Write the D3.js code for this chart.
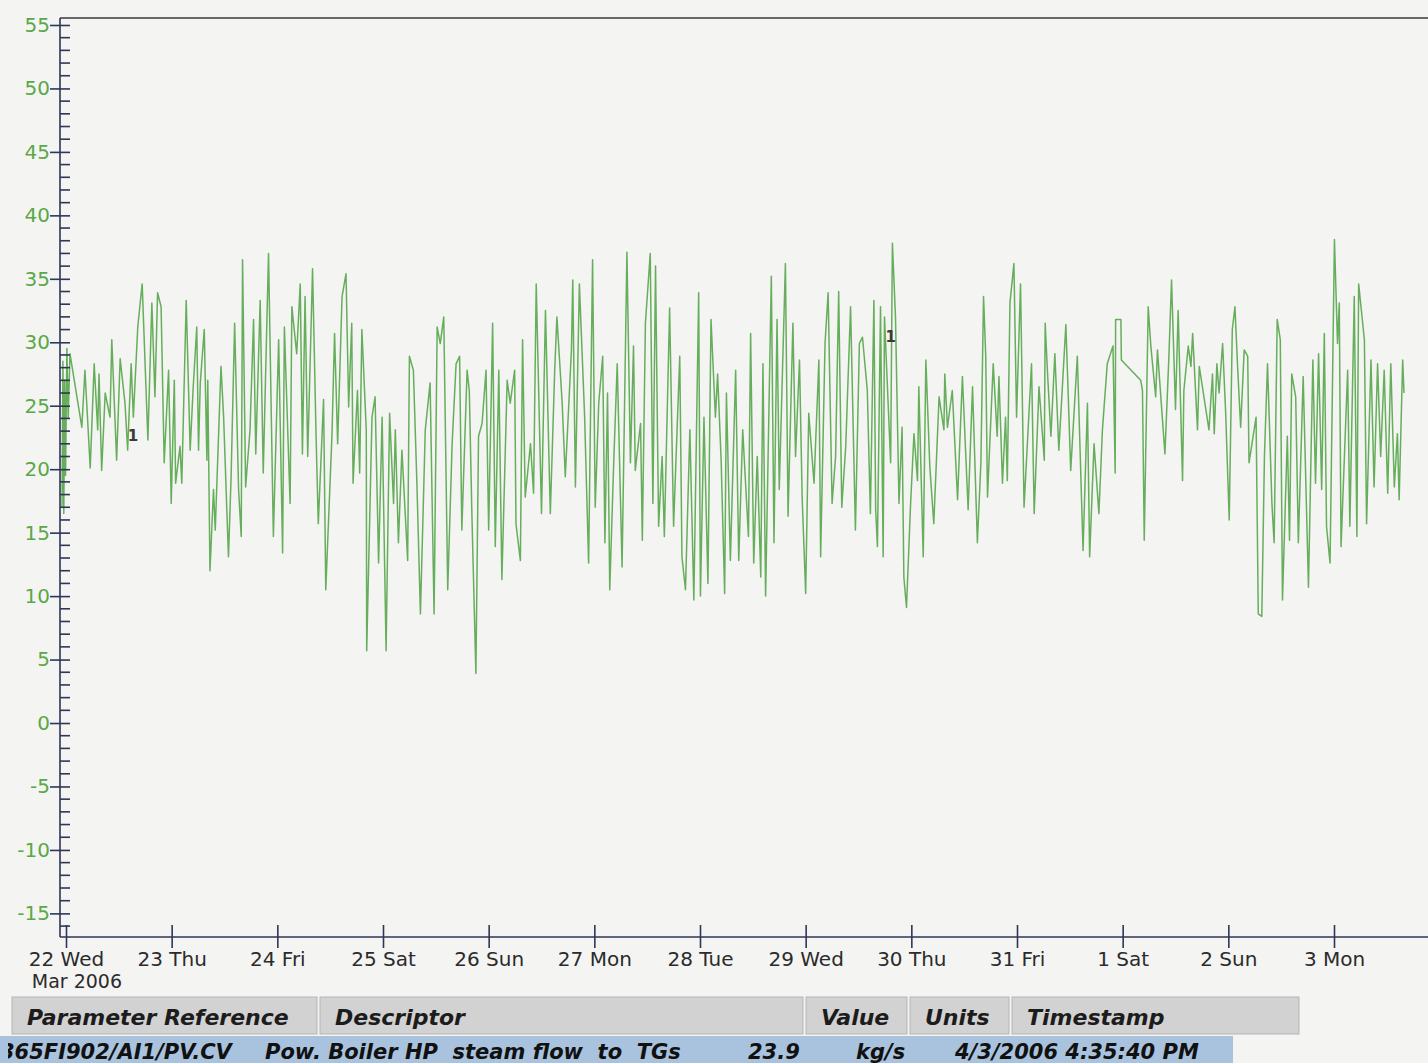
<!DOCTYPE html>
<html>
<head>
<meta charset="utf-8">
<script src="https://cdn.jsdelivr.net/npm/d3@7"></script>
<style>
  body { margin: 0; background: #f4f4f3; }
  svg { display: block; font-family: "DejaVu Sans", Verdana, sans-serif; }
</style>
</head>
<body>
<svg id="chart" width="1428" height="1063"></svg>
<script>
const hours = [-0.9,-0.7,-0.5,-0.3,-0.1,0.2,0.5,0.9,3.6,4.3,5.5,6.4,7.2,7.5,8.1,8.9,10.0,10.4,11.5,12.3,13.4,14.0,14.8,15.3,16.3,17.3,18.6,19.5,20.2,20.8,21.6,22.3,23.3,23.9,24.6,24.9,25.9,26.3,27.3,28.2,28.9,29.7,30.1,30.5,31.4,32.0,32.2,32.7,33.5,33.9,35.2,35.8,36.9,37.5,38.3,39.2,39.8,40.1,40.8,41.8,42.6,43.1,44.1,44.8,46.0,47.1,48.3,49.2,49.6,50.9,51.3,52.4,53.2,53.7,54.3,54.9,56.0,56.8,57.3,58.5,59.0,60.4,61.0,61.7,62.7,63.6,64.2,64.9,65.2,66.2,66.7,67.2,68.2,68.3,69.5,70.2,71.0,71.8,72.7,73.5,74.4,74.8,75.5,76.3,77.6,78.0,78.9,79.7,80.5,81.6,82.7,83.6,84.3,85.0,85.8,86.7,87.7,88.6,89.4,89.9,91.1,91.6,92.2,93.1,93.7,94.5,95.4,96.0,96.9,97.5,98.3,99.0,100.2,100.9,101.9,102.2,103.2,103.7,104.3,105.5,106.2,106.8,108.0,108.9,110.0,111.0,111.5,112.7,113.4,114.8,115.1,115.7,116.6,117.8,118.7,119.6,120.2,121.0,121.9,122.4,123.0,123.5,124.4,125.2,126.3,127.4,128.2,128.9,129.3,130.5,130.9,131.6,132.7,133.3,133.9,134.6,135.4,135.9,137.1,138.0,139.4,139.9,140.7,141.7,142.6,143.7,144.1,144.9,145.8,146.5,147.5,148.0,148.8,149.6,150.0,150.9,152.1,152.8,153.7,155.0,155.5,156.2,157.0,157.8,158.3,158.9,160.2,160.8,161.5,162.0,163.4,164.0,165.1,165.7,166.6,167.2,168.0,168.7,169.9,171.0,171.4,172.4,173.1,174.0,174.8,175.5,176.2,177.1,178.2,179.3,180.2,180.9,182.0,182.7,183.5,183.9,184.3,185.0,185.6,185.9,187.3,187.7,188.4,189.2,189.9,190.3,190.9,191.8,192.6,193.4,193.7,194.7,195.3,196.2,197.1,198.3,199.4,199.6,200.2,201.3,202.5,203.6,204.9,205.9,207.0,207.8,208.4,208.9,209.3,210.6,211.5,211.9,212.7,213.4,213.8,214.4,215.3,215.9,216.8,217.6,219.3,219.9,221.0,222.2,222.4,222.9,223.7,224.6,225.5,227.1,228.2,229.7,231.0,232.0,232.5,233.5,234.6,235.4,236.5,237.8,238.3,238.4,239.6,239.7,244.1,244.5,244.9,245.8,246.4,247.5,247.9,249.6,250.5,251.1,252.0,252.6,253.6,253.9,254.9,255.5,255.9,257.0,257.4,259.6,260.4,260.8,261.4,261.9,262.7,263.4,264.2,264.9,265.5,266.1,266.8,267.6,268.4,268.7,270.3,270.8,271.6,272.2,272.9,273.9,274.4,275.1,275.8,276.3,277.4,277.9,278.4,279.3,279.9,281.0,282.2,283.2,283.8,284.5,285.2,285.8,286.3,287.1,288.1,288.8,289.2,289.6,290.7,291.1,291.6,292.6,293.2,293.6,294.9,295.4,296.4,297.1,297.9,298.6,299.4,300.2,300.9,301.7,302.4,302.8,303.6,303.9];
const flow = [17.0,28.5,16.5,27.0,19.5,29.5,24.0,29.1,23.3,27.8,20.1,28.3,23.1,27.5,19.9,26.0,24.1,30.2,20.7,28.7,25.2,21.5,28.3,24.1,31.2,34.6,22.3,33.1,25.7,33.9,32.8,20.5,27.8,17.3,27.0,18.9,21.8,18.9,33.3,21.5,26.5,31.2,21.5,26.8,31.0,20.7,27.0,12.0,18.4,15.2,28.1,24.1,13.1,19.4,31.5,18.4,14.7,36.5,18.6,23.1,31.8,21.2,33.3,19.7,37.0,14.7,30.2,13.4,31.2,17.3,32.8,29.1,34.6,21.2,33.6,21.0,35.8,22.6,15.7,25.5,10.5,22.6,30.7,22.0,33.6,35.4,24.9,31.5,18.9,26.2,19.7,31.0,23.1,5.7,24.1,25.7,12.6,24.1,5.7,24.4,17.3,23.1,14.2,21.5,12.8,28.9,27.8,18.9,8.6,23.1,26.8,8.6,31.2,29.9,32.0,10.5,22.0,28.3,28.9,15.2,27.8,26.2,16.3,3.9,22.6,23.6,27.8,15.2,31.5,13.9,27.8,11.3,27.0,25.2,27.8,15.7,12.8,30.2,17.8,22.0,18.1,34.6,16.5,32.5,16.5,27.8,32.0,25.2,19.4,29.4,34.9,18.6,34.6,24.1,12.6,36.5,17.0,25.2,28.9,14.2,26.0,10.5,20.5,28.3,12.3,37.1,20.5,29.7,19.9,23.6,14.4,31.5,37.0,17.3,36.0,15.5,21.0,14.7,32.7,15.5,28.9,13.1,10.5,23.1,9.7,33.9,10.0,24.1,11.0,31.8,24.1,27.5,20.7,10.2,26.0,12.8,27.8,12.8,23.1,14.7,30.7,12.6,21.0,11.5,28.3,10.0,35.2,14.2,31.8,18.4,36.2,16.3,31.5,21.0,28.6,17.8,10.2,24.4,18.9,28.6,13.1,29.9,33.9,17.3,21.0,34.0,17.0,21.8,32.8,15.2,29.9,30.4,26.2,16.5,33.3,16.8,13.9,32.8,13.1,32.0,20.5,37.8,32.0,17.3,23.3,11.5,9.1,17.0,22.8,19.1,26.5,13.1,28.6,20.2,15.7,25.7,23.1,27.5,23.3,26.2,17.6,27.3,16.8,26.5,14.2,20.5,33.6,28.9,17.8,28.3,22.6,27.3,18.9,24.1,19.1,33.1,36.2,24.1,34.6,17.0,28.3,16.5,26.5,20.7,31.5,27.8,22.6,29.1,21.5,31.4,19.9,28.9,13.6,25.2,13.1,22.0,16.5,23.1,28.3,29.7,19.7,31.8,31.8,28.6,27.0,26.2,14.4,32.8,29.7,25.7,29.4,21.2,28.9,34.9,24.7,32.5,19.1,26.2,29.7,28.1,30.7,23.1,28.1,23.1,27.5,22.8,28.3,26.0,29.9,24.4,16.0,31.0,32.8,28.1,23.3,29.4,28.9,20.5,24.1,8.6,8.4,21.0,28.3,17.3,14.2,31.8,30.2,9.7,22.6,14.4,27.5,25.7,14.2,27.3,10.7,28.6,18.9,29.1,18.4,30.7,15.5,12.6,38.1,29.9,33.1,13.9,24.1,27.8,15.5,33.6,14.7,34.6,30.2,15.7,28.6,18.6,28.3,21.0,27.8,18.1,28.3,18.6,22.8,17.6,28.6,26.0];

const yTickValues = [-15, -10, -5, 0, 5, 10, 15, 20, 25, 30, 35, 40, 45, 50, 55];
const markerHours = [15.2, 187.3];
const markerValues = [22.6, 30.4];
const markerText = ["1", "1"];

const tableHeaders = ["Parameter Reference", "Descriptor", "Value", "Units", "Timestamp"];
const tableRow = ["365FI902/AI1/PV.CV", "Pow. Boiler HP  steam flow  to  TGs", "23.9", "kg/s", "4/3/2006 4:35:40 PM"];

const t0 = Date.UTC(2006, 2, 22);
const t1 = Date.UTC(2006, 3, 3);
const data = hours.map((h, i) => ({ t: new Date(t0 + h * 3600e3), v: flow[i] }));

const svg = d3.select("#chart");
const axisColor = "#2f3658";
const green = "#5aa847";

const x = d3.scaleUtc().domain([new Date(t0), new Date(t1)]).range([66, 1334]);
const y = d3.scaleLinear().domain([-16.86, 55.55]).range([937, 18]);

// frame
svg.append("line").attr("x1", 60).attr("x2", 1428).attr("y1", 18).attr("y2", 18)
   .attr("stroke", "#3a3a3a").attr("stroke-width", 1.6);
svg.append("line").attr("x1", 60).attr("x2", 60).attr("y1", 18).attr("y2", 937)
   .attr("stroke", axisColor).attr("stroke-width", 1.6);
svg.append("line").attr("x1", 60).attr("x2", 1428).attr("y1", 937).attr("y2", 937)
   .attr("stroke", axisColor).attr("stroke-width", 1.6);

// trend
svg.append("path")
   .datum(data)
   .attr("fill", "none")
   .attr("stroke", "#66ae5c")
   .attr("stroke-width", 1.5)
   .attr("stroke-linejoin", "round")
   .attr("d", d3.line().x(d => x(d.t)).y(d => y(d.v)));

svg.selectAll(".mark")
   .data(markerHours)
   .enter()
   .append("text")
   .attr("class", "mark")
   .attr("x", (d, i) => x(new Date(t0 + d * 3600e3)))
   .attr("y", (d, i) => y(markerValues[i]))
   .attr("text-anchor", "middle")
   .attr("dy", "0.35em")
   .style("font-size", "15px")
   .style("font-weight", "bold")
   .attr("fill", "#3a3a3a")
   .text((d, i) => markerText[i]);

// y axis
const yAxis = svg.append("g")
   .attr("transform", "translate(60,0)")
   .call(d3.axisLeft(y).tickValues(yTickValues).tickSize(10).tickFormat(d => String(d)));
yAxis.select(".domain").remove();
yAxis.selectAll(".tick line").attr("x1", 10).attr("stroke", axisColor).attr("stroke-width", 1.6);
yAxis.selectAll(".tick text")
   .attr("x", -10)
   .attr("fill", green)
   .style("font-size", "20px")
   .style("font-family", "DejaVu Sans, sans-serif");

svg.selectAll(".minor")
   .data(d3.range(-16, 56).filter(v => v % 5 !== 0))
   .enter()
   .append("line")
   .attr("class", "minor")
   .attr("x1", 60).attr("x2", 70)
   .attr("y1", d => y(d)).attr("y2", d => y(d))
   .attr("stroke", axisColor)
   .attr("stroke-width", 1.6);

// x axis
const xAxis = svg.append("g")
   .attr("transform", "translate(0,937)")
   .call(d3.axisBottom(x)
      .tickValues(d3.utcDay.range(new Date(t0), new Date(t1 + 1)))
      .tickFormat(d3.utcFormat("%-d %a"))
      .tickSize(11));
xAxis.select(".domain").remove();
xAxis.selectAll(".tick line").attr("y1", -12).attr("stroke", axisColor).attr("stroke-width", 1.6);
xAxis.selectAll(".tick text")
   .attr("y", 15)
   .attr("fill", "#2b2b2b")
   .style("font-size", "20px")
   .style("font-family", "DejaVu Sans, sans-serif");

const firstLabel = xAxis.select(".tick text").node().getBBox();
xAxis.select(".tick").append("text")
   .attr("x", firstLabel.x + 3)
   .attr("y", 38)
   .attr("dy", "0.71em")
   .attr("fill", "#2b2b2b")
   .style("font-size", "19px")
   .style("font-family", "DejaVu Sans, sans-serif")
   .attr("text-anchor", "start")
   .text("Mar 2006");

// parameter table
const colEdges = [12, 320, 806, 910, 1012, 1302];
const head = svg.append("g");
head.selectAll("rect")
   .data(tableHeaders)
   .enter()
   .append("rect")
   .attr("x", (d, i) => colEdges[i])
   .attr("y", 997)
   .attr("width", (d, i) => colEdges[i + 1] - colEdges[i] - 3)
   .attr("height", 37)
   .attr("fill", "#d2d2d2")
   .attr("stroke", "#b5b5b5");
head.selectAll("text")
   .data(tableHeaders)
   .enter()
   .append("text")
   .attr("x", (d, i) => colEdges[i] + 15)
   .attr("y", 1025)
   .attr("fill", "#1c1c1c")
   .style("font-size", "22px")
   .style("font-weight", "bold")
   .style("font-style", "italic")
   .text(d => d);

svg.append("clipPath").attr("id", "rowClip")
   .append("rect").attr("x", 8).attr("y", 1036).attr("width", 1226).attr("height", 27);
svg.append("rect")
   .attr("x", 0).attr("y", 1036).attr("width", 1233).attr("height", 27)
   .attr("fill", "#a9c3de");
const rowX = [0, 265, 748, 856, 955];
svg.append("g").attr("clip-path", "url(#rowClip)")
   .selectAll("text")
   .data(tableRow)
   .enter()
   .append("text")
   .attr("x", (d, i) => rowX[i])
   .attr("y", 1059)
   .attr("fill", "#111")
   .style("white-space", "pre")
   .style("font-size", "21px")
   .style("font-weight", "bold")
   .style("font-style", "italic")
   .text(d => d);
</script>
</body>
</html>
